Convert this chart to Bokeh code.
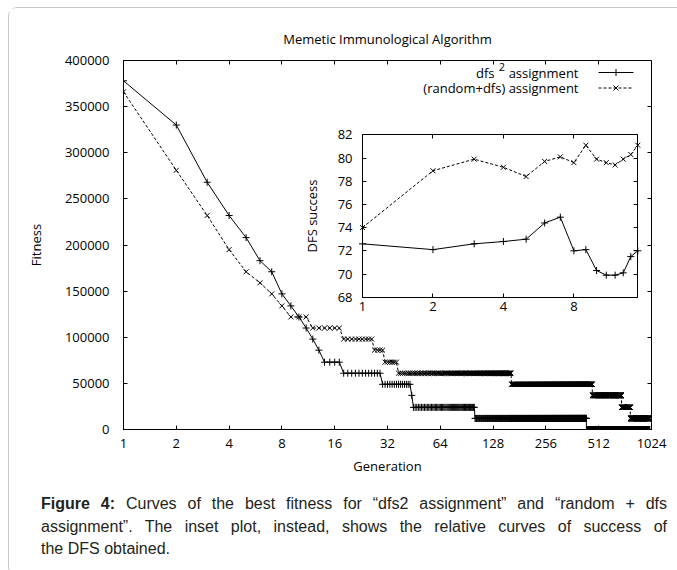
import numpy as np
from bokeh.plotting import figure
from bokeh.models import (Range1d, LogScale, LinearScale, LinearAxis, LogAxis,
                          FixedTicker, PrintfTickFormatter, Div)
from bokeh.core.properties import value
from bokeh.layouts import column
from bokeh.embed import file_html
from bokeh.resources import INLINE

# ---------------- data ----------------
TITLE = "Memetic Immunological Algorithm"
X_LABEL = "Generation"
Y_LABEL = "Fitness"
INSET_Y_LABEL = "DFS success"
LEGEND_DFS2 = ["dfs", "2", "assignment"]          # dfs^2 assignment
LEGEND_RANDOM = "(random+dfs) assignment"

MAIN_X_TICKS = [1, 2, 4, 8, 16, 32, 64, 128, 256, 512, 1024]
MAIN_Y_TICKS = [0, 50000, 100000, 150000, 200000, 250000, 300000, 350000, 400000]
INSET_X_TICKS = [1, 2, 4, 8]
INSET_Y_TICKS = [68, 70, 72, 74, 76, 78, 80, 82]

N_GENERATIONS = 1000

# dfs^2 assignment: best fitness of generations 1..13, then plateaus
dfs2_early = [378000, 330000, 268000, 232000, 208000, 183000, 171000,
              147000, 134000, 122000, 110000, 98000, 86000]
dfs2_plateau_start = [14, 18, 30, 44, 45, 101, 436]
dfs2_plateau_level = [73000, 61000, 49000, 37000, 24000, 12000, 0]

# (random+dfs) assignment: generations 1..8, then plateaus
rnd_early = [366000, 281000, 232000, 195000, 171000, 159000, 147000, 134000]
rnd_plateau_start = [9, 12, 18, 27, 31, 37, 163, 471, 691, 776]
rnd_plateau_level = [122000, 110000, 98000, 86000, 73000, 61000, 49000,
                     37000, 24000, 12000]

# inset: DFS success
inset_generations = [1, 2, 3, 4, 5, 6, 7, 8, 9, 10, 11, 12, 13, 14, 15]
inset_dfs2 = [72.6, 72.1, 72.6, 72.8, 73.0, 74.4, 74.9, 72.0, 72.1, 70.3,
              69.9, 69.9, 70.1, 71.5, 72.0]
inset_random = [74.0, 78.9, 79.9, 79.2, 78.4, 79.7, 80.1, 79.6, 81.1, 79.9,
                79.6, 79.4, 79.9, 80.3, 81.1]

CAPTION_BOLD = "Figure 4:"
CAPTION_LINES = [
    " Curves of the best fitness for \u201cdfs2 assignment\u201d and \u201crandom + dfs",
    "assignment\u201d. The inset plot, instead, shows the relative curves of success of",
    "the DFS obtained.",
]


def expand(early, starts, levels, n):
    """Run-length decode: one value per generation."""
    vals = list(early)
    ends = starts[1:] + [n + 1]
    for s, e, lv in zip(starts, ends, levels):
        vals.extend([lv] * (e - s))
    return list(range(1, n + 1)), vals


gen_dfs2, fit_dfs2 = expand(dfs2_early, dfs2_plateau_start, dfs2_plateau_level, N_GENERATIONS)
gen_rnd, fit_rnd = expand(rnd_early, rnd_plateau_start, rnd_plateau_level, N_GENERATIONS)

# ---------------- layout ----------------
FIG_W, FIG_H = 668, 472
B_L, B_R, B_T, B_B = 114, 26, 52, 51
FRAME_W = FIG_W - B_L - B_R
FRAME_H = FIG_H - B_T - B_B
# inset box inside the frame (pixels from frame top-left)
IN_L, IN_R, IN_T, IN_B = 239.0, 514.3, 74.3, 236.7

FONT = "Open Sans"
FS = "13px"

ix_lo, ix_hi = inset_generations[0], inset_generations[-1]
ppo = (IN_R - IN_L) / (np.log2(ix_hi) - np.log2(ix_lo))
ix_start = 2 ** (np.log2(ix_lo) - IN_L / ppo)
ix_end = 2 ** (np.log2(ix_hi) + (FRAME_W - IN_R) / ppo)
iy_lo, iy_hi = INSET_Y_TICKS[0], INSET_Y_TICKS[-1]
ppu = (IN_B - IN_T) / (iy_hi - iy_lo)
iy_start = iy_lo - (FRAME_H - IN_B) / ppu
iy_end = iy_hi + IN_T / ppu

p = figure(width=FIG_W, height=FIG_H, x_axis_type="log",
           x_range=Range1d(MAIN_X_TICKS[0], MAIN_X_TICKS[-1]),
           y_range=Range1d(MAIN_Y_TICKS[0], MAIN_Y_TICKS[-1]),
           x_axis_location=None, y_axis_location=None,
           output_backend="svg", toolbar_location=None,
           min_border_left=B_L, min_border_right=B_R,
           min_border_top=B_T, min_border_bottom=B_B)
p.xgrid.visible = False
p.ygrid.visible = False
p.outline_line_color = "black"
p.outline_line_width = 1
p.background_fill_color = "white"
p.border_fill_color = "white"

p.extra_x_ranges = {"ix": Range1d(ix_start, ix_end), "fx": Range1d(0, FRAME_W)}
p.extra_y_ranges = {"iy": Range1d(iy_start, iy_end), "fy": Range1d(FRAME_H, 0)}
p.extra_x_scales = {"ix": LogScale(), "fx": LinearScale()}
p.extra_y_scales = {"iy": LinearScale(), "fy": LinearScale()}

p.title.text = TITLE
p.title.align = "center"
p.title.text_font = FONT
p.title.text_font_size = FS
p.title.text_font_style = "normal"
p.title.text_color = "black"
p.title.standoff = 25


def style(ax, tin, tout, labels=True, std=0):
    ax.major_tick_in = tin
    ax.major_tick_out = tout
    ax.minor_tick_line_color = None
    ax.major_tick_line_color = "black"
    ax.axis_line_color = "black"
    ax.major_label_text_font = FONT
    ax.major_label_text_font_size = FS
    ax.major_label_text_color = "black" if labels else None
    ax.major_label_standoff = std
    ax.axis_label_text_font = FONT
    ax.axis_label_text_font_size = FS
    ax.axis_label_text_font_style = "normal"
    ax.axis_label_text_color = "black"


fmt = PrintfTickFormatter(format="%d")

# main axes
ax_b = LogAxis(ticker=FixedTicker(ticks=MAIN_X_TICKS), formatter=fmt, axis_label=X_LABEL)
style(ax_b, 4, 0, True, 9)
ax_b.axis_label_standoff = 6
p.add_layout(ax_b, "below")

ax_l = LinearAxis(ticker=FixedTicker(ticks=MAIN_Y_TICKS), formatter=fmt, axis_label=Y_LABEL)
style(ax_l, 4, 0, True, 14)
ax_l.axis_label_standoff = 17
p.add_layout(ax_l, "left")

ax_t = LogAxis(ticker=FixedTicker(ticks=MAIN_X_TICKS), fixed_location=MAIN_Y_TICKS[-1])
style(ax_t, 0, 4, False)
p.add_layout(ax_t, "below")

ax_r = LinearAxis(ticker=FixedTicker(ticks=MAIN_Y_TICKS), fixed_location=MAIN_X_TICKS[-1])
style(ax_r, 0, 4, False)
p.add_layout(ax_r, "left")

# inset axes
iax_l = LinearAxis(x_range_name="ix", y_range_name="iy", fixed_location=ix_lo,
                   bounds=(iy_lo, iy_hi), ticker=FixedTicker(ticks=INSET_Y_TICKS),
                   formatter=fmt, axis_label=INSET_Y_LABEL)
style(iax_l, 4, 0, True, 10)
iax_l.axis_label_standoff = 14
p.add_layout(iax_l, "left")

iax_b = LogAxis(x_range_name="ix", y_range_name="iy", fixed_location=iy_lo,
                bounds=(ix_lo, ix_hi), ticker=FixedTicker(ticks=INSET_X_TICKS), formatter=fmt)
style(iax_b, 4, 0, True, 5)
p.add_layout(iax_b, "below")

iax_t = LogAxis(x_range_name="ix", y_range_name="iy", fixed_location=iy_hi,
                bounds=(ix_lo, ix_hi), ticker=FixedTicker(ticks=INSET_X_TICKS))
style(iax_t, 0, 4, False)
p.add_layout(iax_t, "below")

iax_r = LinearAxis(x_range_name="ix", y_range_name="iy", fixed_location=ix_hi,
                   bounds=(iy_lo, iy_hi), ticker=FixedTicker(ticks=INSET_Y_TICKS))
style(iax_r, 0, 4, False)
p.add_layout(iax_r, "left")

# main curves
p.line(gen_dfs2, fit_dfs2, line_color="black", line_width=1)
p.scatter(gen_dfs2, fit_dfs2, marker="cross", size=7, line_color="black", line_width=1)
p.line(gen_rnd, fit_rnd, line_color="black", line_width=1, line_dash="3 2")
p.scatter(gen_rnd, fit_rnd, marker="x", size=7, line_color="black", line_width=1)

# inset curves
p.line(inset_generations, inset_dfs2, x_range_name="ix", y_range_name="iy",
       line_color="black", line_width=1)
p.scatter(inset_generations, inset_dfs2, x_range_name="ix", y_range_name="iy",
          marker="cross", size=7, line_color="black", line_width=1)
p.line(inset_generations, inset_random, x_range_name="ix", y_range_name="iy",
       line_color="black", line_width=1, line_dash="3 2")
p.scatter(inset_generations, inset_random, x_range_name="ix", y_range_name="iy",
          marker="x", size=7, line_color="black", line_width=1)

# legend (frame pixel coordinates)
LG_TXT_R = 455.0
LG_Y1, LG_Y2 = 12.0, 27.5
LG_S0, LG_S1 = 475.0, 510.0
p.text(x=[LG_TXT_R, LG_TXT_R], y=[LG_Y1, LG_Y2], text=[LEGEND_DFS2[2], LEGEND_RANDOM],
       x_range_name="fx", y_range_name="fy", text_font=value(FONT),
       text_font_size=FS, text_align="right", text_baseline="middle", text_color="black")
p.text(x=[LG_TXT_R - 73.5], y=[LG_Y1 - 5.5], text=[LEGEND_DFS2[1]],
       x_range_name="fx", y_range_name="fy", text_font=value(FONT),
       text_font_size="11px", text_align="right", text_baseline="middle", text_color="black")
p.text(x=[LG_TXT_R - 84.0], y=[LG_Y1], text=[LEGEND_DFS2[0]],
       x_range_name="fx", y_range_name="fy", text_font=value(FONT),
       text_font_size=FS, text_align="right", text_baseline="middle", text_color="black")
p.line([LG_S0, LG_S1], [LG_Y1, LG_Y1], x_range_name="fx", y_range_name="fy",
       line_color="black", line_width=1)
p.scatter([(LG_S0 + LG_S1) / 2], [LG_Y1], x_range_name="fx", y_range_name="fy",
          marker="cross", size=7, line_color="black")
p.line([LG_S0, LG_S1], [LG_Y2, LG_Y2], x_range_name="fx", y_range_name="fy",
       line_color="black", line_width=1, line_dash="3 2")
p.scatter([(LG_S0 + LG_S1) / 2], [LG_Y2], x_range_name="fx", y_range_name="fy",
          marker="x", size=7, line_color="black")

# caption
line_style = "text-align:justify;text-align-last:justify;white-space:nowrap;"
html = ('<div style="box-sizing:border-box;font-family:\'Liberation Sans\',Arial,sans-serif;'
        'font-size:16px;line-height:22.5px;color:#231f20;padding:8px 0 0 27px;width:653px;">'
        f'<div style="{line_style}"><b>{CAPTION_BOLD}</b>{CAPTION_LINES[0]}</div>'
        f'<div style="{line_style}">{CAPTION_LINES[1]}</div>'
        f'<div>{CAPTION_LINES[2]}</div></div>')
cap = Div(text=html, width=668, height=85)

layout = column(p, cap, styles={"margin": "7px 0 0 8px",
                                "border": "1px solid #c8c8c8", "border-right": "none",
                                "border-radius": "9px 0 0 9px", "background": "white"})

open("out.html", "w").write(file_html(layout, INLINE))
